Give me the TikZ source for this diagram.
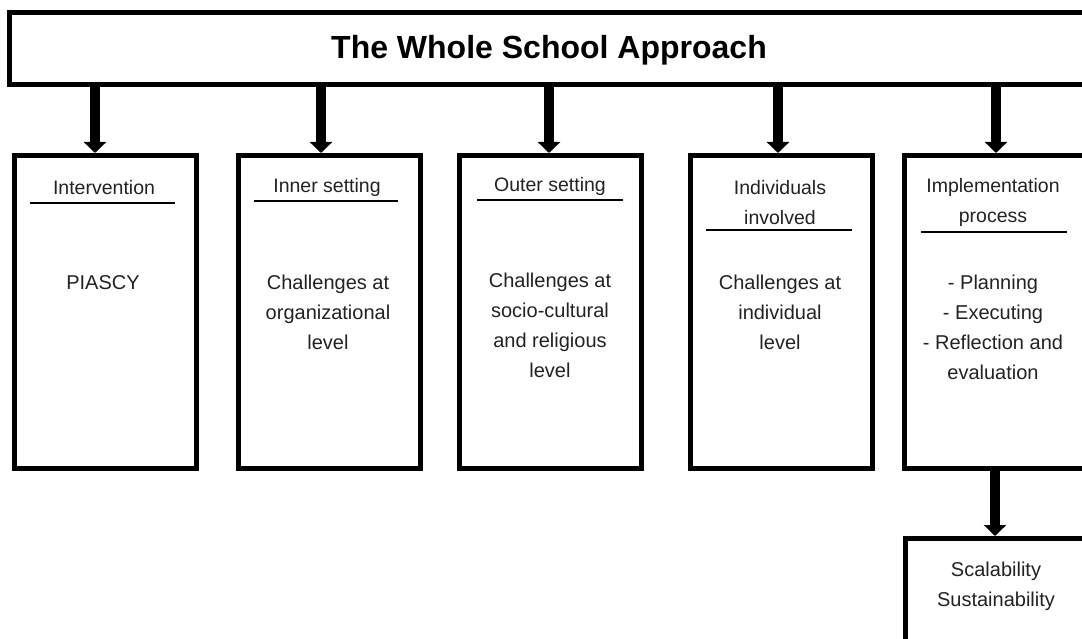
\documentclass[tikz,border=0pt]{standalone}
\usepackage{fontspec}
\setmainfont{Liberation Sans}
\usepackage{tikz}
\usetikzlibrary{arrows.meta, positioning}
\definecolor{wsaInk}{HTML}{222222}

\begin{document}
\begin{tikzpicture}[x=1pt, y=-1pt,
    panel/.style={draw=black, line width=5pt, minimum width=182pt, minimum height=313pt, inner sep=0pt},
    banner/.style={draw=black, line width=5pt, minimum width=1079pt, minimum height=72pt, inner sep=0pt},
    ttl/.style={font=\fontsize{32}{36}\selectfont\bfseries, text=black},
    hdr/.style={font=\fontsize{19.5}{30}\selectfont, text=wsaInk, align=center, inner sep=0pt},
    body/.style={font=\fontsize{20}{30}\selectfont, text=wsaInk, align=center, inner sep=0pt},
    rule/.style={line width=1.8pt, draw=black},
    flow/.style={-{Triangle[width=22pt,length=11pt]}, line width=10pt, draw=black}]

  \clip (0,0) rectangle (1082,639);
  \useasboundingbox (0,0) rectangle (1082,639);

  % banner and the five panels
  \node[banner] (top) at (549,48.5) {};
  \node[ttl] (ttl) at (549,50) {The Whole School Approach};

  \node[panel] (b1) at (105.5,312) {};
  \node[panel] (b2) at (329,312)   {};
  \node[panel] (b3) at (550.5,312) {};
  \node[panel] (b4) at (781,312)   {};
  \node[panel] (b5) at (995.5,312) {};
  \node[panel, minimum height=161pt] (b6) at (996.5,619) {};

  \foreach \x/\b in {95/b1,321/b2,549/b3,778/b4,996/b5} {
    \draw[flow] (top.south -| \x,0) -- (\b.north -| \x,0);
  }
  \draw[flow] (b5.south -| 995,0) -- (b6.north -| 995,0);

  % panel headings
  \node[hdr] (h1) at (104,188) {Intervention};
  \node[hdr] (h2) at (327,187) {Inner setting};
  \node[hdr] (h3) at (550,186) {Outer setting};
  \node[hdr] (h4) at (780,203) {Individuals\\involved};
  \node[hdr] (h5) at (993,202) {Implementation\\process};

  \draw[rule] (30,203) -- (175,203);
  \draw[rule] (254,201) -- (398,201);
  \draw[rule] (477,200) -- (623,200);
  \draw[rule] (706,230) -- (852,230);
  \draw[rule] (921,232) -- (1067,232);

  % panel contents
  \node[body] (c1) at (103,283) {PIASCY};
  \node[body] (c2) at (328,312) {Challenges at\\organizational\\level};
  \node[body] (c3) at (550,325) {Challenges at\\socio-cultural\\and religious\\level};
  \node[body] (c4) at (780,312) {Challenges at\\individual\\level};
  \node[body] (c5) at (993,327) {- Planning\\- Executing\\- Reflection and\\evaluation};
  \node[body] (c6) at (996,586) {Scalability\\Sustainability};
\end{tikzpicture}
\end{document}
